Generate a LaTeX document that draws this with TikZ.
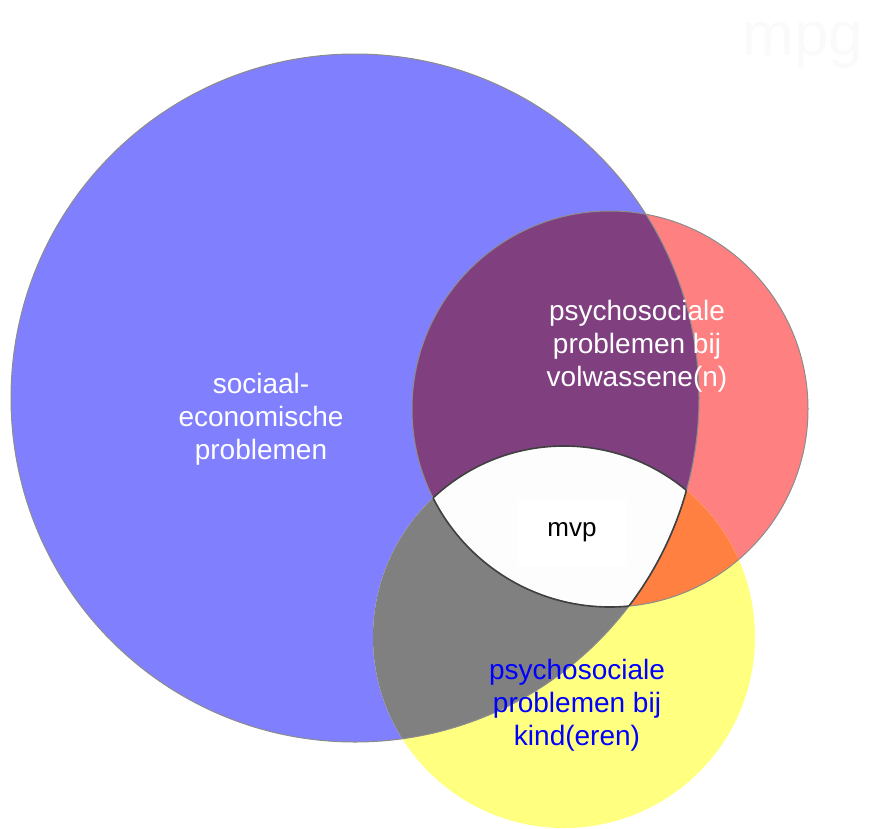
\documentclass[tikz,border=0pt]{standalone}
\usepackage{fontspec}
\setmainfont{Liberation Sans}
\usetikzlibrary{positioning}

\definecolor{socblue}{RGB}{128,128,255}
\definecolor{volred}{RGB}{255,128,128}
\definecolor{kindyellow}{RGB}{255,255,128}
\definecolor{socvol}{RGB}{128,64,128}
\definecolor{sockind}{RGB}{128,128,128}
\definecolor{volkind}{RGB}{255,128,64}
\definecolor{mvpwhite}{RGB}{253,253,253}

\begin{document}
\begin{tikzpicture}[x=1pt, y=-1pt]
        \tikzstyle{label}=[align=center, font=\fontsize{28}{33}\selectfont];
        \tikzstyle{rim}=[draw=gray!90, line width=1pt];
        \tikzstyle{mvprim}=[draw=black!75, line width=1.6pt];
        \useasboundingbox (0,0) rectangle (870,828);

        \coordinate (soc) at (355,398);
        \coordinate (vol) at (610,409);
        \coordinate (kind) at (564,637);

        % the three circles
        \fill[socblue] (soc) circle (344);
        \fill[volred] (vol) circle (198);
        \fill[kindyellow] (kind) circle (191);

        % overlaps
        \begin{scope}
          \clip (soc) circle (344);
          \fill[socvol] (vol) circle (198);
          \fill[sockind] (kind) circle (191);
        \end{scope}
        \begin{scope}
          \clip (vol) circle (198);
          \fill[volkind] (kind) circle (191);
        \end{scope}
        \begin{scope}
          \clip (soc) circle (344);
          \clip (vol) circle (198);
          \fill[mvpwhite] (kind) circle (191);
        \end{scope}

        \path[rim] (soc) circle (344);
        \path[rim] (vol) circle (198);

        % rim of the middle part
        \begin{scope}
          \clip (soc) circle (344);
          \clip (vol) circle (198);
          \path[mvprim] (kind) circle (191);
        \end{scope}
        \begin{scope}
          \clip (soc) circle (344);
          \clip (kind) circle (191);
          \path[mvprim] (vol) circle (198);
        \end{scope}
        \begin{scope}
          \clip (vol) circle (198);
          \clip (kind) circle (191);
          \path[mvprim] (soc) circle (344);
        \end{scope}

        \node[label, text=white] (soclabel) at (261,419) {sociaal-\\economische\\problemen};
        \node[label, text=white] (vollabel) at (637,346) {psychosociale\\problemen bij\\volwassene(n)};
        \node[label, text=blue] (kindlabel) at (577,705) {psychosociale\\problemen bij\\kind(eren)};
        \node[fill=white, minimum width=110pt, minimum height=67pt, font=\fontsize{26}{30}\selectfont] (mvp) at (572,532) {mvp};
        \node[anchor=base, text=black!2, font=\fontsize{62}{70}\selectfont] (mpg) at (803,55) {mpg};
\end{tikzpicture}
\end{document}
